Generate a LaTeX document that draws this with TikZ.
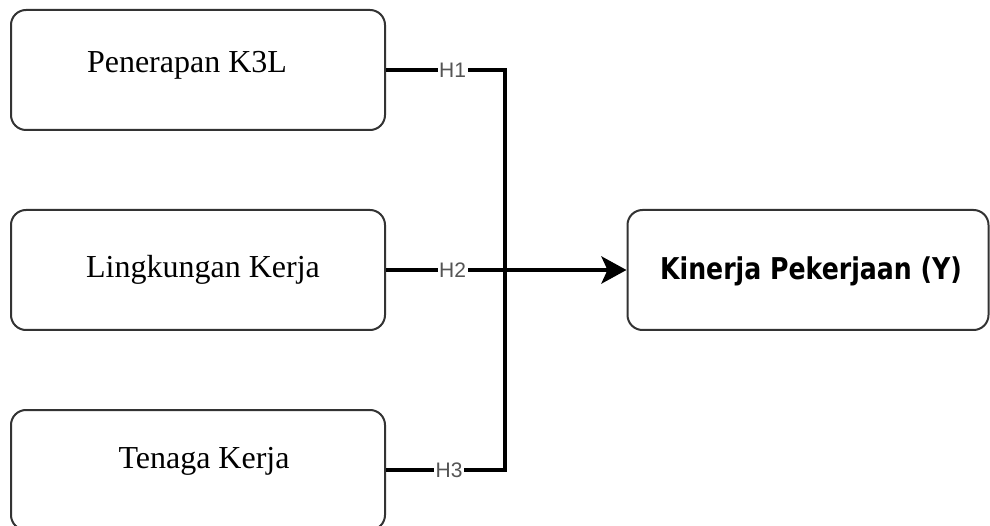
\documentclass[tikz,border=0pt]{standalone}
\usepackage{fontspec}
\usepackage{graphicx}
\setmainfont{Liberation Serif}
\newfontfamily\hfont{Liberation Sans}
\newfontfamily\yfont{DejaVu Sans}
\usepackage{tikz}
\usetikzlibrary{arrows.meta, positioning}
\definecolor{boxline}{HTML}{333333}
\definecolor{hgray}{HTML}{555555}
\tikzset{
  varbox/.style={draw=boxline,line width=2pt,rounded corners=15pt,fill=white,
    minimum width=374pt,minimum height=120pt,inner sep=0pt},
  ybox/.style={varbox,minimum width=361pt},
  vartext/.style={anchor=base,inner sep=0pt,font=\fontsize{32}{36}\selectfont},
  ytext/.style={anchor=base,inner sep=0pt,font=\fontsize{30}{34}\yfont\bfseries},
  hlab/.style={fill=white,inner sep=1.5pt,text=hgray,font=\fontsize{21}{24}\hfont,pos=0.56},
  conn/.style={line width=3.5pt,black},
  mainarr/.style={-{Stealth[length=25pt,width=27pt,inset=6pt]},line width=4.5pt,black},
}

\begin{document}
\begin{tikzpicture}[x=1pt,y=-1pt]
  \useasboundingbox (0,0) rectangle (990,526);
  % variable boxes
  \node[varbox] (b1) at (198,70) {};
  \node[varbox] (b2) at (198,270) {};
  \node[varbox] (b3) at (198,470) {};
  \node[ybox] (ky) at (808,270) {};
  \node[vartext] (t1) at (187,73) {Penerapan K3L};
  \node[vartext] (t2) at (203,278) {Lingkungan Kerja};
  \node[vartext] (t3) at (204,468) {Tenaga Kerja};
  \node[ytext] (ty) at (811,280) {\scalebox{0.84}[1]{Kinerja Pekerjaan (Y)}};
  % junction
  \coordinate (jn) at (505,270);
  \draw[conn] (b1) -- node[hlab] {H1} (b1 -| jn) -- (jn);
  \draw[conn] (b3) -- node[hlab,pos=0.53] {H3} (b3 -| jn) -- (jn);
  \draw[conn] (b2) -- node[hlab] {H2} (jn);
  \draw[mainarr] (jn) -- (ky);
\end{tikzpicture}
\end{document}
